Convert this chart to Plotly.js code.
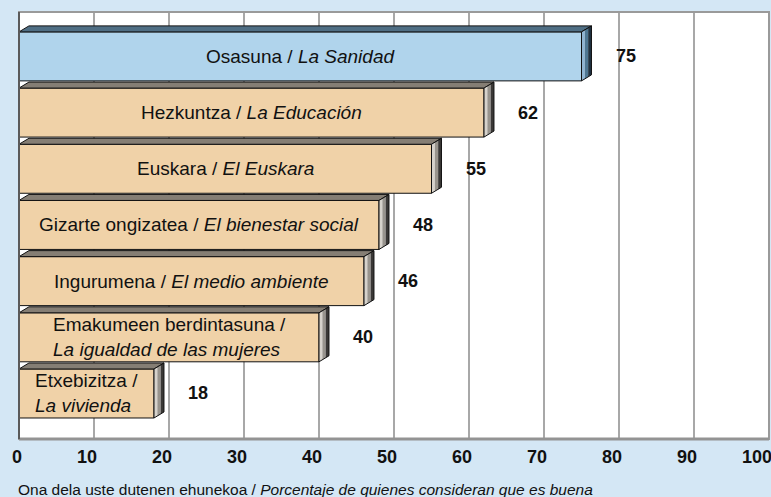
<!DOCTYPE html>
<html>
<head>
<meta charset="utf-8">
<script src="https://cdn.plot.ly/plotly-3.0.1.min.js"></script>
<style>
  body { margin: 0; background: #d4e7f5; }
  #chart { width: 771px; height: 497px; }
</style>
</head>
<body>
<div id="chart"></div>
<script>
// chart values
var categories = [
	"Osasuna / <i>La Sanidad</i>",
	"Hezkuntza / <i>La Educación</i>",
	"Euskara / <i>El Euskara</i>",
	"Gizarte ongizatea / <i>El bienestar social</i>",
	"Ingurumena / <i>El medio ambiente</i>",
	"Emakumeen berdintasuna /<br><i>La igualdad de las mujeres</i>",
	"Etxebizitza /<br><i>La vivienda</i>"
];
var values = [75, 62, 55, 48, 46, 40, 18];
var xTicks = [0, 10, 20, 30, 40, 50, 60, 70, 80, 90, 100];
var axisTitle = "Ona dela uste dutenen ehunekoa / <i>Porcentaje de quienes consideran que es buena</i>";

var pos = categories.map(function(c, i){ return i; });

var FONT = "Arial, 'Liberation Sans', sans-serif";
var barW = 0.872;
var dx = 1.33;   // depth of the 3d effect, x units (about 10px)
var dy = 0.107;  // depth of the 3d effect, y units (about 6px)

// first bar is blue, the others tan
var faceCol = values.map(function(v, i){ return i == 0 ? "#b0d4ec" : "#f0d2a8"; });
var topCol = ["#4f6e84", "#857e74"];
var sideCols = [["#8fb4d2", "#4f7792", "#1f3140"], ["#d6d2cb", "#98948d", "#3a3836"]];

var shapes = [];
for (let i = 0; i < values.length; i++){
	var v = values[i];
	var t = pos[i] - barW/2;
	var b = pos[i] + barW/2;
	var k = i == 0 ? 0 : 1;
	// top face
	shapes.push({type: "path", xref: "x", yref: "y", layer: "above",
		path: "M0," + t + " L" + v + "," + t + " L" + (v+dx) + "," + (t-dy) + " L" + dx + "," + (t-dy) + " Z",
		fillcolor: topCol[k], line: {color: "#111", width: 1}});
	// side face in three strips to fake the shading
	for (let s = 0; s < 3; s++){
		var a0 = s/3, a1 = (s+1)/3;
		var xa = v + dx*a0, xb = v + dx*a1;
		shapes.push({type: "path", xref: "x", yref: "y", layer: "above",
			path: "M" + xa + "," + (t-dy*a0) + " L" + xb + "," + (t-dy*a1) +
				" L" + xb + "," + (b-dy*a1) + " L" + xa + "," + (b-dy*a0) + " Z",
			fillcolor: sideCols[k][s], line: {width: 0}});
	}
	shapes.push({type: "path", xref: "x", yref: "y", layer: "above",
		path: "M" + v + "," + t + " L" + (v+dx) + "," + (t-dy) + " L" + (v+dx) + "," + (b-dy) + " L" + v + "," + b + " Z",
		fillcolor: "rgba(0,0,0,0)", line: {color: "#111", width: 1}});
}

// plot frame
shapes.push({type: "rect", xref: "paper", yref: "paper", x0: 0, x1: 1, y0: 0, y1: 1,
	line: {color: "#9a9a9a", width: 2}, layer: "above"});
shapes.push({type: "line", xref: "paper", yref: "paper", x0: 0, x1: 1, y0: 0, y1: 0,
	line: {color: "#939393", width: 3}, layer: "above"});
shapes.push({type: "line", xref: "paper", yref: "paper", x0: 0, x1: 0, y0: 0, y1: 1,
	line: {color: "#5a5a5a", width: 2}, layer: "above"});

var annotations = [];
for (let i = 0; i < values.length; i++){
	annotations.push({x: values[i]/2, y: pos[i], xref: "x", yref: "y",
		text: categories[i], showarrow: false, align: "left",
		font: {family: FONT, size: 19, color: "#111"}});
	annotations.push({x: values[i] + 4.3, y: pos[i], xref: "x", yref: "y",
		text: "<b>" + values[i] + "</b>", showarrow: false, xanchor: "left",
		font: {family: FONT, size: 18, color: "#111"}});
}
annotations.push({x: 0, y: -0.119, xref: "paper", yref: "paper", xanchor: "left", yanchor: "middle",
	xshift: -3, text: axisTitle, showarrow: false,
	font: {family: FONT, size: 15.5, color: "#111"}});

var trace = {type: "bar", orientation: "h", x: values, y: pos, width: barW,
	marker: {color: faceCol, line: {color: "#111", width: 1}},
	hoverinfo: "none"};

var layout = {
	width: 771, height: 497,
	margin: {l: 19, r: 2, t: 12, b: 58},
	paper_bgcolor: "#d4e7f5",
	plot_bgcolor: "#ffffff",
	showlegend: false,
	font: {family: FONT},
	xaxis: {range: [0, 100], tickvals: xTicks, showgrid: true, gridcolor: "#a8a8a8", gridwidth: 1.5,
		zeroline: false, showline: false, ticks: "",
		ticklabelposition: "outside left", ticklabelshift: 3, ticklabelstandoff: 5,
		ticklabeloverflow: "allow",
		tickfont: {family: FONT, size: 18, color: "#111", weight: "bold"}},
	yaxis: {range: [6.81, -0.79], showticklabels: false, showgrid: false, zeroline: false, ticks: ""},
	shapes: shapes,
	annotations: annotations
};

Plotly.newPlot("chart", [trace], layout, {staticPlot: true});
</script>
</body>
</html>
